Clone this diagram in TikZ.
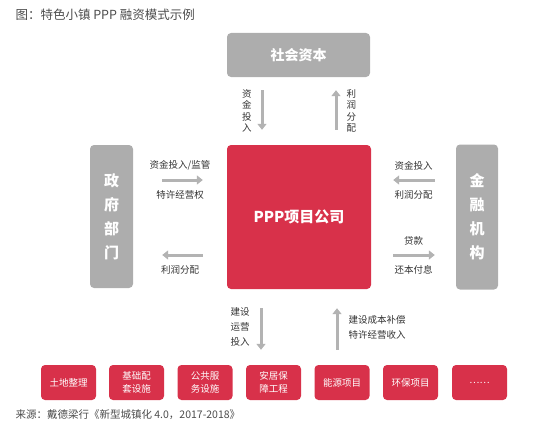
\documentclass[tikz,border=0pt]{standalone}
\usepackage{fontspec}
\setmainfont{Noto Sans CJK SC}
\usepackage{xcolor}
\usetikzlibrary{arrows.meta, positioning}

\definecolor{boxgray}{HTML}{ADADAD}
\definecolor{pppred}{HTML}{D8314A}
\definecolor{arrowgray}{HTML}{B3B3B3}
\definecolor{txtgray}{HTML}{333333}

\begin{document}
\begin{tikzpicture}[x=1pt, y=-1pt,
    party/.style={draw=none, fill=boxgray, rounded corners=4pt, text=white,
        font=\fontsize{14}{17}\selectfont\bfseries, inner sep=0pt},
    company/.style={fill=pppred, rounded corners=4pt, text=white,
        minimum width=144pt, minimum height=144pt, inner sep=0pt,
        font=\fontsize{15}{18}\selectfont\bfseries},
    project/.style={fill=pppred, rounded corners=4pt, text=white,
        minimum width=55pt, minimum height=35pt, inner sep=0pt, align=center,
        font=\fontsize{9.5}{13}\selectfont},
    flow/.style={draw=arrowgray, line width=3pt,
        -{Triangle[length=6pt, width=9pt]}},
    lbl/.style={text=txtgray, font=\fontsize{9.5}{11.5}\selectfont, inner sep=0pt},
    ]
    \useasboundingbox (0,0) rectangle (553,436);

    \node[anchor=west, text=black!70, font=\fontsize{12.5}{15}\selectfont] (title) at (12,15)
        {图：特色小镇 PPP 融资模式示例};

    \node[party, minimum width=143pt, minimum height=44pt] (social) at (298.5,55) {社会资本};
    \node[company] (ppp) at (299,217) {PPP项目公司};
    \node[party, minimum width=43pt, minimum height=143pt, align=center,
        font=\fontsize{15}{24}\selectfont\bfseries] (gov) at (111.5,216.5) {政\\府\\部\\门};
    \node[party, minimum width=42pt, minimum height=145pt, align=center,
        font=\fontsize{15}{24}\selectfont\bfseries] (fin) at (477,217) {金\\融\\机\\构};

    % projects
    \node[project] (p1) at (68.5,382.5) {土地整理};
    \node[project] (p2) at (136.5,382.5) {基础配\\套设施};
    \node[project] (p3) at (205,382.5) {公共服\\务设施};
    \node[project] (p4) at (273.5,382.5) {安居保\\障工程};
    \node[project] (p5) at (342,382.5) {能源项目};
    \node[project] (p6) at (410.5,382.5) {环保项目};
    \node[project] (p7) at (479.5,382.5) {……};

    % social capital <-> company
    \draw[flow, shorten <=13pt, shorten >=15pt]
        ([xshift=-36.5pt]social.south) -- ([xshift=-36.5pt]social.south |- ppp.north)
        node[lbl, midway, left=9pt, align=center] {资\\金\\投\\入};
    \draw[flow, shorten <=15pt, shorten >=13pt]
        ([xshift=37.5pt]social.south |- ppp.north) -- ([xshift=37.5pt]social.south)
        node[lbl, midway, right=9pt, align=center] {利\\润\\分\\配};

    % government <-> company
    \draw[flow, shorten <=29pt, shorten >=24pt]
        ([yshift=36.5pt]gov.east) -- ([yshift=36.5pt]gov.east -| ppp.west)
        node[lbl, midway, above=8pt] {资金投入/监管}
        node[lbl, midway, below=9pt] {特许经营权};
    \draw[flow, shorten <=24pt, shorten >=29pt]
        ([yshift=-38.5pt]gov.east -| ppp.west) -- ([yshift=-38.5pt]gov.east)
        node[lbl, midway, below=9pt] {利润分配};

    % financial institutions <-> company
    \draw[flow, shorten <=21pt, shorten >=22pt]
        ([yshift=37pt]fin.west) -- ([yshift=37pt]fin.west -| ppp.east)
        node[lbl, midway, above=8pt] {资金投入}
        node[lbl, midway, below=9pt] {利润分配};
    \draw[flow, shorten <=22pt, shorten >=21pt]
        ([yshift=-38pt]fin.west -| ppp.east) -- ([yshift=-38pt]fin.west)
        node[lbl, midway, above=8pt] {贷款}
        node[lbl, midway, below=9pt] {还本付息};

    % company <-> projects
    \draw[flow, shorten <=19pt, shorten >=15pt]
        ([xshift=-38pt]ppp.south) -- ([xshift=-38pt]ppp.south |- p4.north)
        node[lbl, midway, left=10pt, align=left, font=\fontsize{9.5}{15}\selectfont] {建设\\运营\\投入};
    \draw[flow, shorten <=15pt, shorten >=19pt]
        ([xshift=38pt]ppp.south |- p4.north) -- ([xshift=38pt]ppp.south)
        node[lbl, midway, right=10pt, align=left, font=\fontsize{9.5}{15}\selectfont] {建设成本补偿\\特许经营收入};

    \node[anchor=west, text=black!70, font=\fontsize{10.5}{13}\selectfont] (source) at (12,415)
        {来源：戴德梁行《新型城镇化 4.0，2017-2018》};
\end{tikzpicture}
\end{document}
